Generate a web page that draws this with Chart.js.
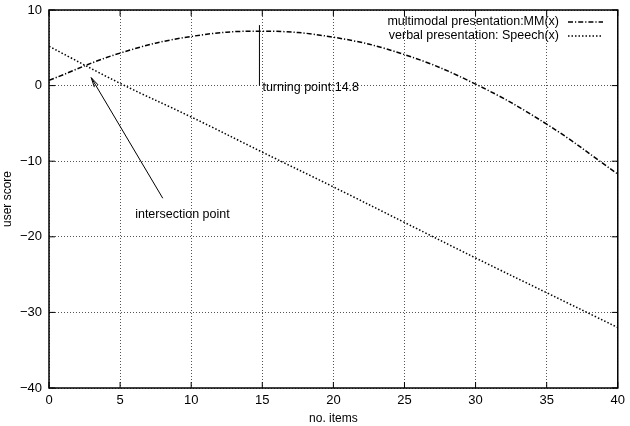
<!DOCTYPE html>
<html lang="en">
<head>
<meta charset="utf-8">
<title>user score</title>
<script src="https://cdn.jsdelivr.net/npm/chart.js@4.4.0/dist/chart.umd.min.js"></script>
<style>
    body { margin: 0; background: #fff; }
</style>
</head>
<body>
<canvas id="myChart" width="630" height="426"></canvas>
<script>
    // values
    const xValues = [0, 5, 10, 15, 20, 25, 30, 35, 40];
    const mmValues = [0.7, 4.3, 6.5, 7.2, 6.4, 4.1, 0.2, -5.1, -11.7];
    const speechValues = [5.2, 0.3, -4.15, -8.8, -13.4, -18.1, -22.8, -27.4, -32.0];
    const seriesNames = ['multimodal presentation:MM(x)', 'verbal presentation: Speech(x)'];

    const FONT = '"Liberation Sans", Arial, Helvetica, sans-serif';
    const mmDash = [5, 2, 1.2, 2];
    const speechDash = [1.5, 2];

    function toPoints(vals) {
        return xValues.map((x, i) => ({ x: x, y: vals[i] }));
    }

    function minus(v) {
        return v < 0 ? '\u2212' + Math.abs(v) : String(v);
    }

    const overlay = {
        id: 'overlay',
        afterDraw(chart) {
            const { ctx, chartArea: a, scales: { x, y } } = chart;
            ctx.save();
            ctx.strokeStyle = '#000';
            ctx.fillStyle = '#000';
            ctx.setLineDash([]);

            function line(x1, y1, x2, y2) {
                ctx.beginPath();
                ctx.moveTo(x1, y1);
                ctx.lineTo(x2, y2);
                ctx.stroke();
            }

            // inward tick marks on all four sides
            ctx.lineWidth = 1;
            x.ticks.forEach(t => {
                const px = x.getPixelForValue(t.value);
                line(px, a.bottom, px, a.bottom - 6);
                line(px, a.top, px, a.top + 6);
            });
            y.ticks.forEach(t => {
                const py = y.getPixelForValue(t.value);
                line(a.left, py, a.left + 6, py);
                line(a.right, py, a.right - 6, py);
            });

            // frame
            ctx.lineWidth = 1.5;
            ctx.strokeRect(a.left, a.top, a.right - a.left, a.bottom - a.top);

            // turning point
            ctx.lineWidth = 1;
            const tx = x.getPixelForValue(14.8);
            line(tx, y.getPixelForValue(8), tx, y.getPixelForValue(0));
            ctx.font = '12.5px ' + FONT;
            ctx.textBaseline = 'middle';
            ctx.textAlign = 'left';
            ctx.fillText('turning point:14.8', tx + 3, y.getPixelForValue(-0.2));

            // intersection arrow
            const hx = x.getPixelForValue(2.97), hy = y.getPixelForValue(1.05);
            const sx = x.getPixelForValue(8.0), sy = y.getPixelForValue(-14.9);
            line(sx, sy, hx, hy);
            const ang = Math.atan2(hy - sy, hx - sx);
            const len = 10, spread = 0.22;
            ctx.beginPath();
            ctx.moveTo(hx - len * Math.cos(ang - spread), hy - len * Math.sin(ang - spread));
            ctx.lineTo(hx, hy);
            ctx.lineTo(hx - len * Math.cos(ang + spread), hy - len * Math.sin(ang + spread));
            ctx.stroke();
            ctx.fillText('intersection point', x.getPixelForValue(6.06), y.getPixelForValue(-17.1));

            // legend (text right aligned, sample on the right)
            ctx.textAlign = 'right';
            const rows = [{ dash: mmDash, yy: 22 }, { dash: speechDash, yy: 36 }];
            rows.forEach((r, i) => {
                ctx.fillText(seriesNames[i], 559, r.yy);
                ctx.setLineDash(r.dash);
                ctx.lineWidth = 1.5;
                line(568, r.yy, 603, r.yy);
                ctx.setLineDash([]);
            });
            ctx.restore();
        }
    };

    const data = {
        datasets: [{
            label: seriesNames[0],
            data: toPoints(mmValues),
            borderColor: '#000',
            borderWidth: 1.5,
            borderDash: mmDash,
            pointRadius: 0,
            tension: 0.4,
            fill: false
        }, {
            label: seriesNames[1],
            data: toPoints(speechValues),
            borderColor: '#000',
            borderWidth: 1.5,
            borderDash: speechDash,
            pointRadius: 0,
            tension: 0.4,
            fill: false
        }]
    };

    const config = {
        type: 'line',
        data: data,
        options: {
            responsive: false,
            animation: false,
            layout: { padding: { left: 0, right: 12, top: 10, bottom: 0 } },
            plugins: {
                legend: { display: false },
                tooltip: { enabled: false }
            },
            scales: {
                x: {
                    type: 'linear',
                    min: 0,
                    max: 40,
                    afterFit: s => { s.height = 38; },
                    ticks: { stepSize: 5, color: '#000', padding: 5, font: { family: FONT, size: 13 } },
                    grid: { color: '#555', lineWidth: 1, drawTicks: false },
                    border: { display: false, dash: [1, 2] },
                    title: {
                        display: true,
                        text: 'no. items',
                        color: '#000',
                        padding: { top: 0, bottom: 0 },
                        font: { family: FONT, size: 12 }
                    }
                },
                y: {
                    type: 'linear',
                    min: -40,
                    max: 10,
                    afterFit: s => {
                        s.width = 49;
                        s.paddingTop = 0;
                        s.paddingBottom = 0;
                    },
                    ticks: {
                        stepSize: 10,
                        color: '#000',
                        padding: 7,
                        font: { family: FONT, size: 13 },
                        callback: v => minus(v)
                    },
                    grid: { color: '#555', lineWidth: 1, drawTicks: false },
                    border: { display: false, dash: [1, 2] },
                    title: {
                        display: true,
                        text: 'user score',
                        color: '#000',
                        padding: { top: 0, bottom: 0 },
                        font: { family: FONT, size: 12 }
                    }
                }
            }
        },
        plugins: [overlay]
    };

    const myChart = new Chart(document.getElementById('myChart'), config);
</script>
</body>
</html>
